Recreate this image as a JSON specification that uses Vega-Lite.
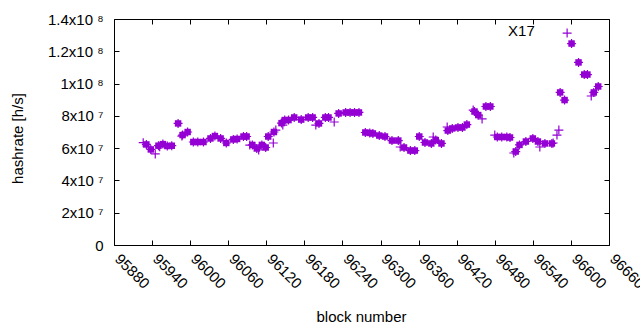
{
  "$schema": "https://vega.github.io/schema/vega-lite/v6.json",
  "width": 495,
  "height": 226,
  "autosize": {"type": "none"},
  "padding": {"left": 114, "top": 19, "right": 31, "bottom": 85},
  "background": "white",
  "config": {
    "view": {"stroke": null},
    "font": "Liberation Sans",
    "axis": {"grid": false, "domainColor": "#000", "tickColor": "#000", "labelColor": "#000", "titleColor": "#000", "labelFont": "Liberation Sans", "titleFont": "Liberation Sans", "labelFontSize": 15, "titleFontSize": 15, "titleFontWeight": "normal", "tickSize": -5, "domainWidth": 1, "tickWidth": 1}
  },
  "data": {"values": [
    {"block": 95931, "hashrate": 62300000, "kind": "sq"},
    {"block": 95938, "hashrate": 59200000, "kind": "sq"},
    {"block": 95950, "hashrate": 61500000, "kind": "sq"},
    {"block": 95957, "hashrate": 62500000, "kind": "sq"},
    {"block": 95964, "hashrate": 61300000, "kind": "sq"},
    {"block": 95971, "hashrate": 61500000, "kind": "sq"},
    {"block": 95981, "hashrate": 75300000, "kind": "sq"},
    {"block": 95988, "hashrate": 68100000, "kind": "sq"},
    {"block": 95996, "hashrate": 70000000, "kind": "sq"},
    {"block": 96005, "hashrate": 63800000, "kind": "sq"},
    {"block": 96012, "hashrate": 63800000, "kind": "sq"},
    {"block": 96021, "hashrate": 63800000, "kind": "sq"},
    {"block": 96032, "hashrate": 66000000, "kind": "sq"},
    {"block": 96039, "hashrate": 67500000, "kind": "sq"},
    {"block": 96048, "hashrate": 66000000, "kind": "sq"},
    {"block": 96057, "hashrate": 63200000, "kind": "sq"},
    {"block": 96068, "hashrate": 65400000, "kind": "sq"},
    {"block": 96074, "hashrate": 65700000, "kind": "sq"},
    {"block": 96084, "hashrate": 67200000, "kind": "sq"},
    {"block": 96089, "hashrate": 67200000, "kind": "sq"},
    {"block": 96098, "hashrate": 62000000, "kind": "sq"},
    {"block": 96105, "hashrate": 59800000, "kind": "sq"},
    {"block": 96113, "hashrate": 62000000, "kind": "sq"},
    {"block": 96119, "hashrate": 60400000, "kind": "sq"},
    {"block": 96123, "hashrate": 67200000, "kind": "sq"},
    {"block": 96132, "hashrate": 70000000, "kind": "sq"},
    {"block": 96144, "hashrate": 75500000, "kind": "sq"},
    {"block": 96149, "hashrate": 77400000, "kind": "sq"},
    {"block": 96155, "hashrate": 77400000, "kind": "sq"},
    {"block": 96164, "hashrate": 79000000, "kind": "sq"},
    {"block": 96175, "hashrate": 77700000, "kind": "sq"},
    {"block": 96186, "hashrate": 79000000, "kind": "sq"},
    {"block": 96193, "hashrate": 79000000, "kind": "sq"},
    {"block": 96203, "hashrate": 75300000, "kind": "sq"},
    {"block": 96213, "hashrate": 79000000, "kind": "sq"},
    {"block": 96218, "hashrate": 79000000, "kind": "sq"},
    {"block": 96234, "hashrate": 81500000, "kind": "sq"},
    {"block": 96245, "hashrate": 82100000, "kind": "sq"},
    {"block": 96252, "hashrate": 82100000, "kind": "sq"},
    {"block": 96259, "hashrate": 82100000, "kind": "sq"},
    {"block": 96266, "hashrate": 82100000, "kind": "sq"},
    {"block": 96276, "hashrate": 69700000, "kind": "sq"},
    {"block": 96283, "hashrate": 69400000, "kind": "sq"},
    {"block": 96288, "hashrate": 69100000, "kind": "sq"},
    {"block": 96298, "hashrate": 67800000, "kind": "sq"},
    {"block": 96307, "hashrate": 67200000, "kind": "sq"},
    {"block": 96318, "hashrate": 64700000, "kind": "sq"},
    {"block": 96328, "hashrate": 64700000, "kind": "sq"},
    {"block": 96337, "hashrate": 60400000, "kind": "sq"},
    {"block": 96347, "hashrate": 58500000, "kind": "sq"},
    {"block": 96354, "hashrate": 58500000, "kind": "sq"},
    {"block": 96361, "hashrate": 67200000, "kind": "sq"},
    {"block": 96370, "hashrate": 63500000, "kind": "sq"},
    {"block": 96380, "hashrate": 62900000, "kind": "sq"},
    {"block": 96387, "hashrate": 65000000, "kind": "sq"},
    {"block": 96396, "hashrate": 62900000, "kind": "sq"},
    {"block": 96406, "hashrate": 70900000, "kind": "sq"},
    {"block": 96413, "hashrate": 72200000, "kind": "sq"},
    {"block": 96422, "hashrate": 72800000, "kind": "sq"},
    {"block": 96429, "hashrate": 72800000, "kind": "sq"},
    {"block": 96436, "hashrate": 74600000, "kind": "sq"},
    {"block": 96448, "hashrate": 82700000, "kind": "sq"},
    {"block": 96454, "hashrate": 80500000, "kind": "sq"},
    {"block": 96466, "hashrate": 85800000, "kind": "sq"},
    {"block": 96473, "hashrate": 85800000, "kind": "sq"},
    {"block": 96484, "hashrate": 66900000, "kind": "sq"},
    {"block": 96491, "hashrate": 66900000, "kind": "sq"},
    {"block": 96499, "hashrate": 66900000, "kind": "sq"},
    {"block": 96504, "hashrate": 66600000, "kind": "sq"},
    {"block": 96513, "hashrate": 57900000, "kind": "sq"},
    {"block": 96519, "hashrate": 62000000, "kind": "sq"},
    {"block": 96529, "hashrate": 64100000, "kind": "sq"},
    {"block": 96540, "hashrate": 66000000, "kind": "sq"},
    {"block": 96548, "hashrate": 64100000, "kind": "sq"},
    {"block": 96559, "hashrate": 62900000, "kind": "sq"},
    {"block": 96570, "hashrate": 62900000, "kind": "sq"},
    {"block": 96583, "hashrate": 94500000, "kind": "sq"},
    {"block": 96590, "hashrate": 89800000, "kind": "sq"},
    {"block": 96601, "hashrate": 124800000, "kind": "sq"},
    {"block": 96612, "hashrate": 113100000, "kind": "sq"},
    {"block": 96621, "hashrate": 105600000, "kind": "sq"},
    {"block": 96626, "hashrate": 105600000, "kind": "sq"},
    {"block": 96636, "hashrate": 94500000, "kind": "sq"},
    {"block": 96643, "hashrate": 98200000, "kind": "sq"},
    {"block": 95926, "hashrate": 63400000, "kind": "plus"},
    {"block": 95945, "hashrate": 56400000, "kind": "plus"},
    {"block": 95952, "hashrate": 60900000, "kind": "plus"},
    {"block": 95987, "hashrate": 67500000, "kind": "plus"},
    {"block": 96094, "hashrate": 61900000, "kind": "plus"},
    {"block": 96108, "hashrate": 58900000, "kind": "plus"},
    {"block": 96131, "hashrate": 63200000, "kind": "plus"},
    {"block": 96135, "hashrate": 71200000, "kind": "plus"},
    {"block": 96146, "hashrate": 74300000, "kind": "plus"},
    {"block": 96198, "hashrate": 74300000, "kind": "plus"},
    {"block": 96227, "hashrate": 76200000, "kind": "plus"},
    {"block": 96331, "hashrate": 60700000, "kind": "plus"},
    {"block": 96383, "hashrate": 66900000, "kind": "plus"},
    {"block": 96405, "hashrate": 73100000, "kind": "plus"},
    {"block": 96446, "hashrate": 83600000, "kind": "plus"},
    {"block": 96460, "hashrate": 78100000, "kind": "plus"},
    {"block": 96480, "hashrate": 68100000, "kind": "plus"},
    {"block": 96510, "hashrate": 57000000, "kind": "plus"},
    {"block": 96551, "hashrate": 60700000, "kind": "plus"},
    {"block": 96572, "hashrate": 63200000, "kind": "plus"},
    {"block": 96578, "hashrate": 68100000, "kind": "plus"},
    {"block": 96581, "hashrate": 71200000, "kind": "plus"},
    {"block": 96594, "hashrate": 131300000, "kind": "plus"},
    {"block": 96632, "hashrate": 92300000, "kind": "plus"}
  ]},
  "resolve": {"axis": {"x": "independent", "y": "independent"}},
  "layer": [
    {
      "transform": [{"filter": "datum.kind == 'sq'"}],
      "mark": {"type": "point", "shape": "square", "filled": true, "size": 42, "color": "#9400D3", "opacity": 1, "strokeWidth": 0},
      "encoding": {
        "x": {"field": "block", "type": "quantitative", "scale": {"domain": [95880, 96660], "nice": false, "zero": false},
          "axis": {"orient": "bottom", "title": "block number", "values": [95880, 95940, 96000, 96060, 96120, 96180, 96240, 96300, 96360, 96420, 96480, 96540, 96600, 96660], "format": "d", "labelAngle": 45, "labelAlign": "left", "labelBaseline": "middle", "labelPadding": 16, "labelOffset": 3, "labelFlush": false, "labelOverlap": false, "titleX": 247, "titleY": 76, "titleBaseline": "alphabetic", "titleAnchor": "middle", "titleAlign": "center"}},
        "y": {"field": "hashrate", "type": "quantitative", "scale": {"domain": [0, 140000000], "nice": false},
          "axis": {"orient": "left", "title": "hashrate [h/s]", "values": [0, 20000000, 40000000, 60000000, 80000000, 100000000, 120000000, 140000000], "labelExpr": "datum.value == 0 ? '0' : datum.value >= 100000000 ? format(datum.value / 100000000, '~g') + 'x10 ⁸' : format(datum.value / 10000000, '~g') + 'x10 ⁷'", "labelPadding": 16, "labelFlush": false, "titleX": -97, "titleY": 119, "titleAngle": -90, "titleAlign": "center", "titleBaseline": "middle"}}
      }
    },
    {
      "mark": {"type": "point", "shape": "M-1,0H1M0,-1V1", "filled": false, "size": 81, "color": "#9400D3", "opacity": 1, "strokeWidth": 1.2},
      "encoding": {
        "x": {"field": "block", "type": "quantitative", "axis": {"orient": "top", "title": null, "labels": false, "values": [95880, 95940, 96000, 96060, 96120, 96180, 96240, 96300, 96360, 96420, 96480, 96540, 96600, 96660]}},
        "y": {"field": "hashrate", "type": "quantitative", "axis": {"orient": "right", "title": null, "labels": false, "values": [0, 20000000, 40000000, 60000000, 80000000, 100000000, 120000000, 140000000]}}
      }
    },
    {
      "data": {"values": [{"block": 96522, "hashrate": 132600000, "label": "X17"}]},
      "mark": {"type": "text", "font": "Liberation Sans", "fontSize": 15, "color": "#000", "align": "center", "baseline": "middle"},
      "encoding": {
        "x": {"field": "block", "type": "quantitative", "axis": null},
        "y": {"field": "hashrate", "type": "quantitative", "axis": null},
        "text": {"field": "label"}
      }
    }
  ]
}
